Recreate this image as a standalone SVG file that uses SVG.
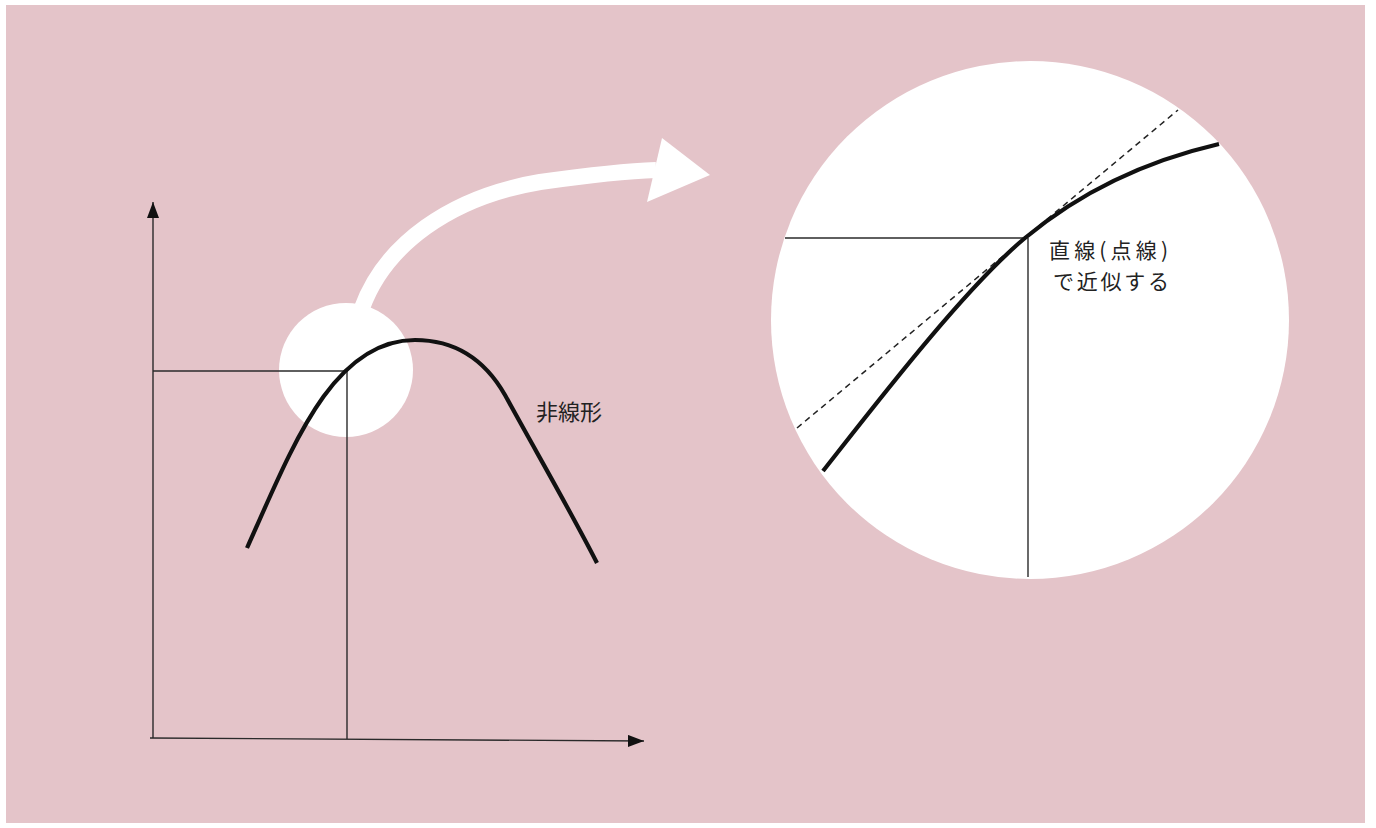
<svg xmlns="http://www.w3.org/2000/svg" width="1376" height="828" viewBox="0 0 1376 828">
  <defs>
    <style>
      .thin { fill: none; stroke: #2a2a2a; stroke-width: 1.4; }
      .thick { fill: none; stroke: #111; stroke-width: 4.2; stroke-linecap: butt; }
      .dash { fill: none; stroke: #222; stroke-width: 1.5; stroke-dasharray: 6 4.5; }
      .lbl { font-family: "Noto Sans CJK JP", "Noto Sans", sans-serif; font-size: 22px; fill: #222; }
      .lbl2 { font-family: "Noto Sans CJK JP", "Noto Sans", sans-serif; font-size: 21px; fill: #222; }
      .spot { fill: #ffffff; }
    </style>
    <marker id="axisHead" viewBox="0 0 16 12" refX="16" refY="6" markerWidth="16" markerHeight="12" markerUnits="userSpaceOnUse" orient="auto">
      <path d="M0,0 L16,6 L0,12 Z" fill="#111"/>
    </marker>
  </defs>

  <rect x="0" y="0" width="1376" height="828" fill="#ffffff"/>
  <rect x="6" y="5" width="1359" height="818" fill="#e4c4c9"/>

  <g id="small-circle">
    <circle class="spot" cx="346" cy="370" r="67"/>
  </g>

  <g id="big-circle">
    <circle class="spot" cx="1030" cy="320" r="259"/>
    <line class="thin" x1="785" y1="238" x2="1025" y2="238"/>
    <line class="thin" x1="1028" y1="238" x2="1028" y2="577"/>
    <line class="dash" x1="797" y1="428" x2="1178" y2="110"/>
    <path class="thick" d="M823,471 C878,401 965,288 1025,238 C1085,188 1150,160 1219,144"/>
    <text class="lbl2" x="1049" y="258" textLength="119" lengthAdjust="spacing">直線(点線)</text>
    <text class="lbl2" x="1053" y="289" textLength="116" lengthAdjust="spacing">で近似する</text>
  </g>

  <g id="graph">
    <line class="thin" x1="153" y1="738" x2="153" y2="202" marker-end="url(#axisHead)"/>
    <line class="thin" x1="150" y1="738" x2="644" y2="741" marker-end="url(#axisHead)"/>
    <line class="thin" x1="153" y1="371" x2="347" y2="371"/>
    <line class="thin" x1="347" y1="371" x2="347" y2="739"/>
    <path class="thick" d="M247,548 C292,448 332,340 415,340 C455,340 485,360 505,395 C535,450 570,510 597,563"/>
    <text class="lbl" x="536" y="420">非線形</text>
  </g>

  <g id="connectors">
    <path d="M362,308 C385,245 450,197 540,182 C590,175 625,171 656,170" fill="none" stroke="#ffffff" stroke-width="16"/>
    <path d="M662,138 L710,175 L647,202 Z" fill="#ffffff"/>
  </g>
</svg>
